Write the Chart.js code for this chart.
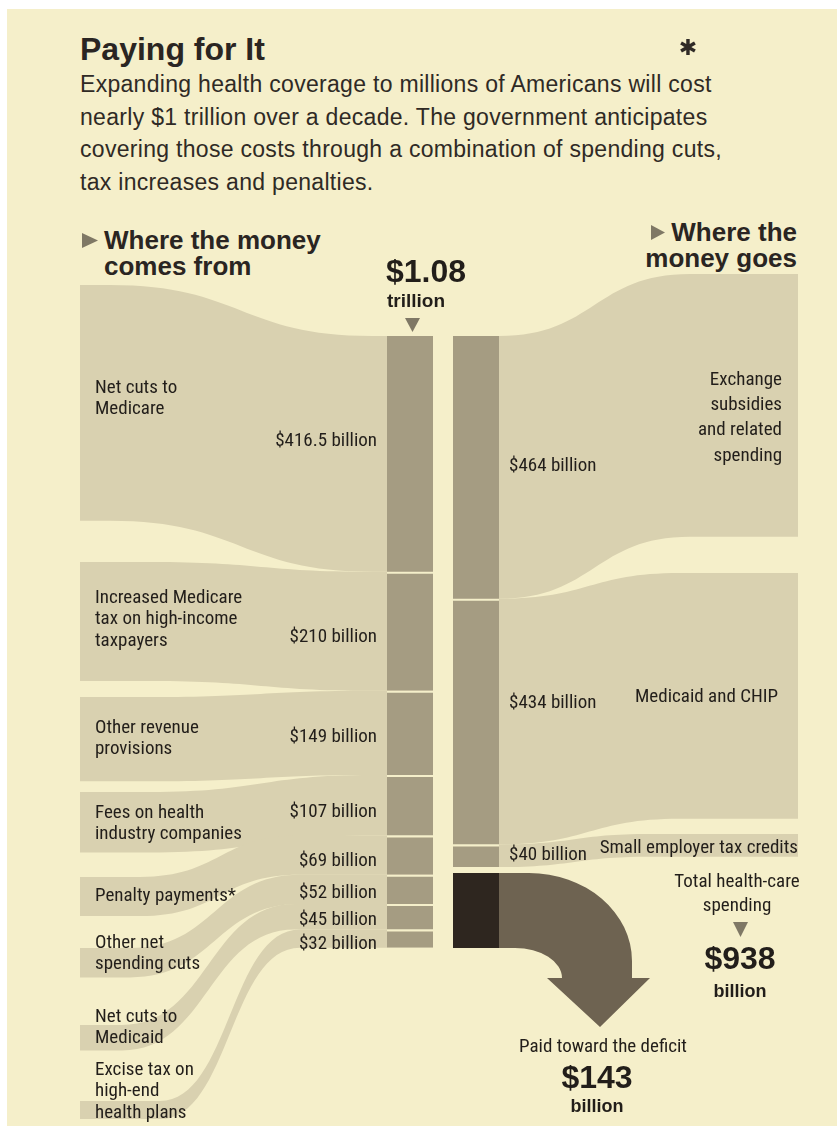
<!DOCTYPE html>
<html>
<head>
<meta charset="utf-8">
<title>Paying for It</title>
<script src="https://cdn.jsdelivr.net/npm/chart.js@4.4.1/dist/chart.umd.min.js"></script>
<style>
  html, body { margin: 0; padding: 0; background: #fff; }
  #page { position: relative; width: 837px; height: 1126px; overflow: hidden; background: #fff; }
  #paper { position: absolute; left: 7px; top: 9px; right: 0; bottom: 0; background: #f5efca; }
  #flow { position: absolute; left: 0; top: 0; }
  .txt { position: absolute; margin: 0; font-family: "Liberation Sans", Arial, sans-serif; white-space: nowrap; }
  h1.txt { left: 80px; top: 33px; font-size: 32px; line-height: 32px; font-weight: bold; color: #2a2522; }
  p.txt { left: 80px; top: 68px; font-size: 23px; line-height: 32.7px; letter-spacing: 0.3px; color: #2f2a25; }
  .head { font-size: 26px; line-height: 26px; font-weight: bold; color: #2a2522; }
  #headFrom { left: 104px; top: 227px; }
  #headTo { right: 40px; top: 219px; text-align: right; }
</style>
</head>
<body>
<div id="page">
  <div id="paper"></div>
  <h1 class="txt">Paying for It</h1>
  <p class="txt">Expanding health coverage to millions of Americans will cost<br>nearly $1 trillion over a decade. The government anticipates<br>covering those costs through a combination of spending cuts,<br>tax increases and penalties.</p>
  <div class="txt head" id="headFrom">Where the money<br>comes from</div>
  <div class="txt head" id="headTo">Where the<br>money goes</div>
  <canvas id="flow" width="837" height="1126"></canvas>
</div>
<script>
// billions of dollars over ten years
const sourceNames = [
  'Net cuts to\nMedicare',
  'Increased Medicare\ntax on high-income\ntaxpayers',
  'Other revenue\nprovisions',
  'Fees on health\nindustry companies',
  'Penalty payments*',
  'Other net\nspending cuts',
  'Net cuts to\nMedicaid',
  'Excise tax on\nhigh-end\nhealth plans'
];
const sourceValues = [416.5, 210, 149, 107, 69, 52, 45, 32];

const useNames = [
  'Exchange\nsubsidies\nand related\nspending',
  'Medicaid and CHIP',
  'Small employer tax credits'
];
const useValues = [464, 434, 40];

const deficitName = 'Paid toward the deficit';
const deficitValue = 143;

const columns = ['Where the money comes from', 'Where the money goes'];

const PAPER = '#f5efca';
const RIBBON = '#d9d1b0';
const BAR = '#a59c82';
const DEFICIT = '#2e261f';
const ARROW = '#6e6351';
const INK = '#221e1a';
const MARKER = '#7f7865';

const LABEL_FONT = '19px "Liberation Sans Narrow", "Roboto Condensed", "DejaVu Sans Condensed", sans-serif';
const BOLD = '"Liberation Sans", Arial, sans-serif';

// where each ribbon ends away from the bars, and where its bend runs (near x, far x)
const leftFlow = [
  { top: 285, bend: [372, 110], nameY: 388, valueY: 441 },
  { top: 562, bend: [372, 150], nameY: 598, valueY: 637 },
  { top: 697, bend: [372, 150], nameY: 728, valueY: 737 },
  { top: 792, bend: [372, 150], nameY: 813, valueY: 812 },
  { top: 877, bend: [300, 140], nameY: 896, valueY: 861 },
  { top: 948, bend: [300, 130], nameY: 943, valueY: 893 },
  { top: 1025, bend: [295, 122], nameY: 1017, valueY: 920 },
  { top: 1101, bend: [300, 160], nameY: 1070, valueY: 944 }
];
const rightFlow = [
  { top: 274, bend: [499, 690], nameX: 782, nameY: 380, lineH: 25.3, valueY: 466 },
  { top: 573, bend: [499, 680], nameX: 778, nameY: 697, lineH: 22, valueY: 703 },
  { top: 834, bend: [499, 650], nameX: 798, nameY: 848, lineH: 22, valueY: 855 }
];
const LEFT_END = 80;
const RIGHT_END = 798;

const sum = arr => arr.reduce((a, b) => a + b, 0);
const money = v => '$' + v + ' billion';

function ribbon(ctx, barX, top, bot, farX, farTop, near, far) {
  const t = bot - top;
  const mid = (near + far) / 2;
  ctx.beginPath();
  ctx.moveTo(barX, top);
  ctx.lineTo(near, top);
  ctx.bezierCurveTo(mid, top, mid, farTop, far, farTop);
  ctx.lineTo(farX, farTop);
  ctx.lineTo(farX, farTop + t);
  ctx.lineTo(far, farTop + t);
  ctx.bezierCurveTo(mid, farTop + t, mid, bot, near, bot);
  ctx.lineTo(barX, bot);
  ctx.closePath();
  ctx.fill();
}

function barBox(chart, datasetIndex, col) {
  const el = chart.getDatasetMeta(datasetIndex).data[col];
  return {
    left: el.x - el.width / 2,
    right: el.x + el.width / 2,
    top: Math.min(el.y, el.base),
    bottom: Math.max(el.y, el.base)
  };
}

function triangle(ctx, pts, color) {
  ctx.fillStyle = color;
  ctx.beginPath();
  ctx.moveTo(pts[0], pts[1]);
  ctx.lineTo(pts[2], pts[3]);
  ctx.lineTo(pts[4], pts[5]);
  ctx.closePath();
  ctx.fill();
}

function lines(ctx, text, x, y, lh) {
  text.split('\n').forEach((s, i) => ctx.fillText(s, x, y + i * lh));
}

const ribbonPlugin = {
  id: 'ribbons',
  beforeDatasetsDraw(chart) {
    const ctx = chart.ctx;
    ctx.save();
    ctx.fillStyle = RIBBON;
    sourceValues.forEach((v, i) => {
      const b = barBox(chart, i, 0);
      const f = leftFlow[i];
      ribbon(ctx, b.left, b.top, b.bottom, LEFT_END, f.top, f.bend[0], f.bend[1]);
    });
    useValues.forEach((v, i) => {
      const b = barBox(chart, sourceValues.length + i, 1);
      const f = rightFlow[i];
      ribbon(ctx, b.right, b.top, b.bottom, RIGHT_END, f.top, f.bend[0], f.bend[1]);
    });
    ctx.restore();
  }
};

const labelPlugin = {
  id: 'flowLabels',
  afterDatasetsDraw(chart) {
    const ctx = chart.ctx;
    ctx.save();

    // deficit arrow hooked off the dark box
    const d = barBox(chart, sourceValues.length + useValues.length, 1);
    const x0 = d.right, yT = d.top + 6, yB = d.bottom;
    const headY = yB + 30;
    ctx.fillStyle = ARROW;
    ctx.beginPath();
    ctx.moveTo(x0, yT);
    ctx.lineTo(x0 + 30, yT);
    ctx.ellipse(x0 + 30, yT + 88, 103, 88, 0, -Math.PI / 2, 0);
    ctx.lineTo(x0 + 133, headY);
    ctx.lineTo(x0 + 151, headY);
    ctx.lineTo(x0 + 101, headY + 49);
    ctx.lineTo(x0 + 48, headY);
    ctx.lineTo(x0 + 63, headY);
    ctx.ellipse(x0 + 16, headY, 47, headY - yB, 0, 0, -Math.PI / 2, true);
    ctx.lineTo(x0, yB);
    ctx.closePath();
    ctx.fill();

    ctx.fillStyle = INK;
    ctx.textBaseline = 'middle';
    ctx.font = LABEL_FONT;

    sourceValues.forEach((v, i) => {
      const f = leftFlow[i];
      ctx.textAlign = 'left';
      lines(ctx, sourceNames[i], 95, f.nameY, 21.5);
      ctx.textAlign = 'right';
      ctx.fillText(money(v), 377, f.valueY);
    });
    useValues.forEach((v, i) => {
      const f = rightFlow[i];
      ctx.textAlign = 'right';
      lines(ctx, useNames[i], f.nameX, f.nameY, f.lineH);
      ctx.textAlign = 'left';
      ctx.fillText(money(v), 509, f.valueY);
    });

    ctx.textAlign = 'center';
    lines(ctx, 'Total health-care\nspending', 737, 882, 24);
    ctx.fillText(deficitName, 603, 1047);

    // totals
    const raised = sum(sourceValues);
    const spent = sum(useValues);
    ctx.font = 'bold 32px ' + BOLD;
    ctx.fillText('$' + (raised / 1000).toFixed(2), 426, 273);
    ctx.fillText('$' + spent, 740, 960);
    ctx.fillText('$' + deficitValue, 597, 1079);
    ctx.font = 'bold 19px ' + BOLD;
    ctx.fillText('trillion', 416, 302);
    ctx.font = 'bold 18px ' + BOLD;
    ctx.fillText('billion', 740, 992);
    ctx.fillText('billion', 597, 1107);

    // pointers
    triangle(ctx, [82, 233, 98, 240.5, 82, 248], MARKER);
    triangle(ctx, [651, 225, 665, 232.5, 651, 240], MARKER);
    triangle(ctx, [405, 318, 420, 318, 412.5, 332], MARKER);
    triangle(ctx, [733, 922, 748, 922, 740.5, 937], MARKER);

    ctx.fillStyle = '#2f2a26';
    ctx.font = 'bold 22px "DejaVu Sans", sans-serif';
    ctx.fillText('\u2731', 688, 49);
    ctx.restore();
  }
};

function segment(value, col, i, color, gapTop) {
  return {
    label: col === 0 ? sourceNames[i] : (useNames[i] || deficitName),
    data: col === 0 ? [value, null] : [null, value],
    backgroundColor: color,
    borderColor: PAPER,
    borderWidth: { top: gapTop, right: 0, bottom: 0, left: 0 },
    borderSkipped: false,
    stack: 'flow'
  };
}

const datasets = [
  ...sourceValues.map((v, i) => segment(v, 0, i, BAR, i ? 2 : 0)),
  ...useValues.map((v, i) => segment(v, 1, i, BAR, i ? 2 : 0)),
  segment(deficitValue, 1, useValues.length, DEFICIT, 6)
];

const yMax = Math.max(sum(sourceValues), sum(useValues) + deficitValue);

new Chart(document.getElementById('flow'), {
  type: 'bar',
  data: { labels: columns, datasets },
  options: {
    responsive: false,
    animation: false,
    devicePixelRatio: 1,
    events: [],
    layout: { padding: { left: 377, right: 328, top: 336, bottom: 178 } },
    datasets: { bar: { barPercentage: 46 / 66, categoryPercentage: 1 } },
    plugins: { legend: { display: false }, tooltip: { enabled: false } },
    scales: {
      x: { display: false, stacked: true },
      y: { display: false, stacked: true, min: 0, max: yMax, reverse: true }
    }
  },
  plugins: [ribbonPlugin, labelPlugin]
});
</script>
</body>
</html>
